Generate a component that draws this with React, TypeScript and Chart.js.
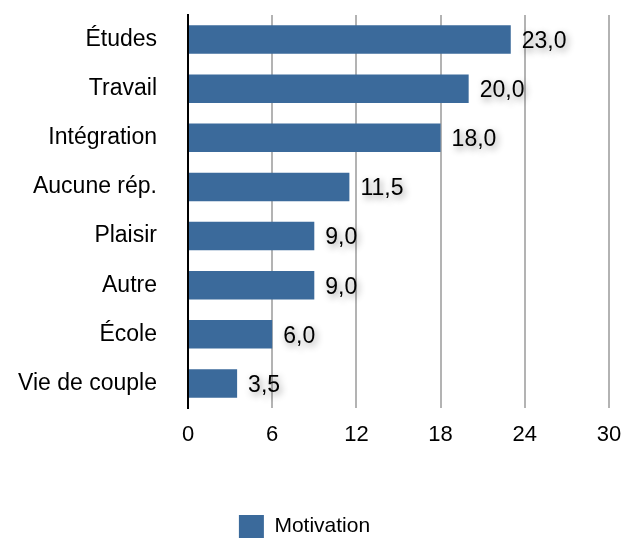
import React, { useEffect, useRef } from "react";
import { Chart, registerables } from "chart.js";

Chart.register(...registerables);

const categories = ["Études", "Travail", "Intégration", "Aucune rép.", "Plaisir", "Autre", "École", "Vie de couple"];
const values = [23.0, 20.0, 18.0, 11.5, 9.0, 9.0, 6.0, 3.5];
const xTicks = [0, 6, 12, 18, 24, 30];
const seriesName = "Motivation";

const FONT = "'Liberation Sans', Arial, Helvetica, sans-serif";

const valueLabels = {
  id: "valueLabels",
  afterDatasetsDraw(chart: any) {
    const ctx = chart.ctx;
    const meta = chart.getDatasetMeta(0);
    ctx.save();
    ctx.font = `23px ${FONT}`;
    ctx.fillStyle = "#000";
    ctx.textAlign = "left";
    ctx.textBaseline = "middle";
    ctx.shadowColor = "rgba(0,0,0,0.45)";
    ctx.shadowBlur = 7;
    ctx.shadowOffsetX = 2;
    ctx.shadowOffsetY = 3;
    meta.data.forEach((bar: any, i: number) => {
      const v = values[i];
      ctx.fillText(v.toFixed(1).replace(".", ","), bar.x + 11, bar.y + 2);
    });
    ctx.restore();
  },
};

export default function App() {
  const ref = useRef<HTMLCanvasElement | null>(null);
  useEffect(() => {
    if (!ref.current) return;
    const chart = new Chart(ref.current, {
      type: "bar",
      data: {
        labels: categories,
        datasets: [
          {
            label: seriesName,
            data: values,
            backgroundColor: "#3b6a9b",
            borderWidth: 0,
            categoryPercentage: 1,
            barPercentage: 0.58,
          },
        ],
      },
      options: {
        indexAxis: "y",
        animation: false,
        responsive: false,
        layout: { padding: { left: 0, right: 15, top: 15, bottom: -9 } },
        plugins: {
          legend: {
            position: "bottom",
            labels: {
              font: { family: FONT, size: 21 },
              color: "#000",
              boxWidth: 25,
              boxHeight: 23,
              padding: 10,
            },
          },
          tooltip: { enabled: false },
        },
        scales: {
          x: {
            min: 0,
            max: 30,
            afterBuildTicks: (scale: any) => {
              scale.ticks = xTicks.map((v) => ({ value: v }));
            },
            afterFit: (scale: any) => {
              scale.height = 97;
              scale.paddingLeft = 0;
              scale.paddingRight = 0;
            },
            grid: { color: "#b3b3b3", lineWidth: 2, drawTicks: false },
            border: { display: false },
            ticks: { font: { family: FONT, size: 22 }, color: "#000", padding: 14 },
          },
          y: {
            afterFit: (scale: any) => {
              scale.width = 188;
              scale.paddingTop = 0;
              scale.paddingBottom = 0;
            },
            grid: { display: false, drawTicks: false },
            border: { display: true, color: "#000", width: 2 },
            ticks: { font: { family: FONT, size: 23 }, color: "#000", padding: 31 },
          },
        },
      },
      plugins: [valueLabels],
    });
    return () => chart.destroy();
  }, []);
  return (
    <div style={{ position: "fixed", left: 0, top: 0, width: 624, height: 539, background: "#fff" }}>
      <canvas ref={ref} width={624} height={539} />
    </div>
  );
}
